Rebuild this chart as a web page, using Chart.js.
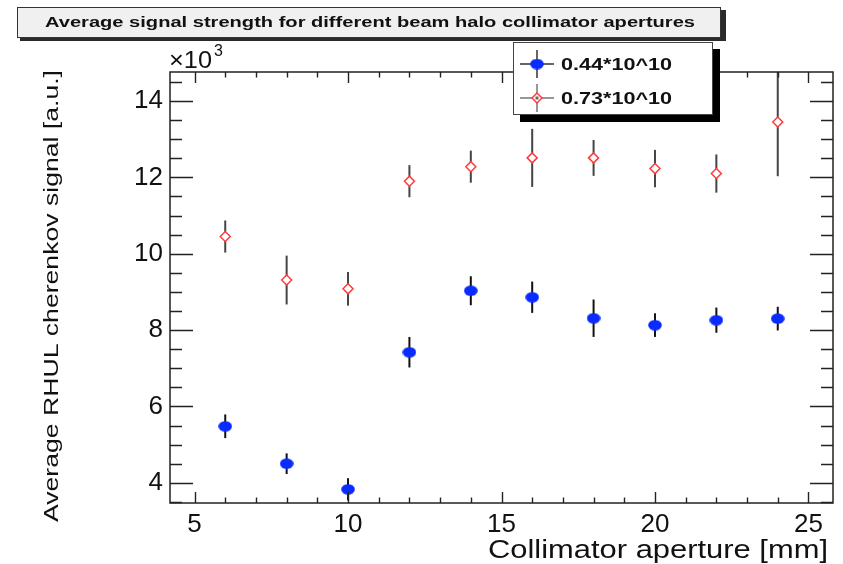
<!DOCTYPE html>
<html>
<head>
<meta charset="utf-8">
<script src="https://cdn.jsdelivr.net/npm/chart.js@4.4.1/dist/chart.umd.min.js"></script>
<style>
  body { margin: 0; background: #fff; }
  #wrap { width: 843px; height: 564px; }
</style>
</head>
<body>
<div id="wrap"><canvas id="chart" width="843" height="564"></canvas></div>
<script>
// values, y in units of 10^3
const aperture = [6, 8, 10, 12, 14, 16, 18, 20, 22, 24];
const sig044 = [5.48, 4.50, 3.83, 7.42, 9.03, 8.86, 8.31, 8.13, 8.26, 8.30];
const err044 = [0.31, 0.27, 0.29, 0.40, 0.38, 0.41, 0.49, 0.31, 0.33, 0.31];
const sig073 = [10.45, 9.31, 9.08, 11.90, 12.28, 12.51, 12.51, 12.23, 12.10, 13.45];
const err073 = [0.42, 0.64, 0.44, 0.42, 0.42, 0.76, 0.47, 0.49, 0.50, 1.42];
const seriesNames = ['0.44*10^10', '0.73*10^10'];
const xTicks = [5, 10, 15, 20, 25];
const yTicks = [4, 6, 8, 10, 12, 14];

const FONT = '"Liberation Sans", Arial, Helvetica, sans-serif';
const BLUE = '#0a2bff';
const RED = '#ff3b3b';

// blue marker looks a bit squashed in the original, so use an ellipse image
const dot = document.createElement('canvas');
dot.width = 14; dot.height = 11;
(function () {
  const c = dot.getContext('2d');
  c.fillStyle = BLUE;
  c.beginPath();
  c.ellipse(7, 5.5, 6.8, 5.2, 0, 0, Math.PI * 2);
  c.fill();
})();

function toPoints(ys) {
  return aperture.map((x, i) => ({ x: x, y: ys[i] }));
}

// draw text squeezed/stretched to a given width
function fitText(ctx, txt, x, y, w, align) {
  const m = ctx.measureText(txt).width;
  ctx.save();
  ctx.translate(x, y);
  ctx.scale(w / m, 1);
  ctx.textAlign = align;
  ctx.fillText(txt, 0, 0);
  ctx.restore();
}

const errorBars = {
  id: 'errorBars',
  beforeDatasetsDraw(chart) {
    const ctx = chart.ctx, a = chart.chartArea;
    const ys = chart.scales.y;
    const errs = [err044, err073];
    const cols = ['#111', '#444'];
    ctx.save();
    ctx.beginPath();
    ctx.rect(a.left, a.top, a.right - a.left, a.bottom - a.top);
    ctx.clip();
    chart.data.datasets.forEach((ds, i) => {
      const meta = chart.getDatasetMeta(i);
      ctx.strokeStyle = cols[i];
      ctx.lineWidth = 2;
      meta.data.forEach((pt, j) => {
        const v = ds.data[j].y;
        ctx.beginPath();
        ctx.moveTo(pt.x, ys.getPixelForValue(v + errs[i][j]));
        ctx.lineTo(pt.x, ys.getPixelForValue(v - errs[i][j]));
        ctx.stroke();
      });
    });
    ctx.restore();
  }
};

const decor = {
  id: 'decor',
  afterDraw(chart) {
    const ctx = chart.ctx, a = chart.chartArea;
    const xs = chart.scales.x, ys = chart.scales.y;
    ctx.save();

    // frame
    ctx.strokeStyle = '#222';
    ctx.lineWidth = 1.5;
    ctx.strokeRect(a.left, a.top, a.right - a.left, a.bottom - a.top);

    // ticks pointing inward, on all four sides
    ctx.lineWidth = 1.4;
    ctx.beginPath();
    for (let v = 3.5; v <= 14.75; v += 0.5) {
      const p = Math.round(ys.getPixelForValue(v)) + 0.5;
      const len = (v % 2 === 0) ? 23 : 12;
      ctx.moveTo(a.left, p); ctx.lineTo(a.left + len, p);
      ctx.moveTo(a.right, p); ctx.lineTo(a.right - len, p);
    }
    for (let v = 5; v <= 25; v += 1) {
      const p = Math.round(xs.getPixelForValue(v)) + 0.5;
      const len = (v % 5 === 0) ? 11 : 5.5;
      ctx.moveTo(p, a.bottom); ctx.lineTo(p, a.bottom - len);
      ctx.moveTo(p, a.top); ctx.lineTo(p, a.top + len);
    }
    ctx.stroke();

    ctx.fillStyle = '#111';
    ctx.textBaseline = 'alphabetic';

    // x10^3
    ctx.font = '24px ' + FONT;
    fitText(ctx, '\u00d710', 169, 68, 43, 'left');
    ctx.font = '16px ' + FONT;
    ctx.textAlign = 'left';
    ctx.fillText('3', 214, 56);

    // axis titles
    ctx.font = '26px ' + FONT;
    fitText(ctx, 'Collimator aperture [mm]', 828, 558, 340, 'right');
    ctx.save();
    ctx.translate(58, 296);
    ctx.rotate(-Math.PI / 2);
    ctx.font = '21px ' + FONT;
    fitText(ctx, 'Average RHUL cherenkov signal [a.u.]', 0, 0, 452, 'center');
    ctx.restore();

    // title box
    ctx.fillStyle = '#2a2a2a';
    ctx.fillRect(20, 10, 706, 31);
    ctx.fillStyle = '#f0f0f0';
    ctx.fillRect(17, 7, 703, 30);
    ctx.strokeStyle = '#333';
    ctx.lineWidth = 1;
    ctx.strokeRect(17.5, 7.5, 703, 30);
    ctx.fillStyle = '#111';
    ctx.font = 'bold 15px ' + FONT;
    fitText(ctx, 'Average signal strength for different beam halo collimator apertures', 45, 27, 650, 'left');

    // legend box with shadow
    ctx.fillStyle = '#000';
    ctx.fillRect(520, 49, 200, 73);
    ctx.fillStyle = '#fff';
    ctx.fillRect(513, 42, 200, 73);
    ctx.strokeStyle = '#444';
    ctx.strokeRect(513.5, 42.5, 199, 72);

    const rows = [64, 98];
    ctx.lineWidth = 1.5;
    rows.forEach((ry, i) => {
      ctx.strokeStyle = i === 0 ? '#333' : '#777';
      ctx.beginPath();
      ctx.moveTo(520, ry); ctx.lineTo(554, ry);
      ctx.moveTo(537, ry - 14); ctx.lineTo(537, ry + 14);
      ctx.stroke();
    });
    ctx.drawImage(dot, 530, 58.5);
    ctx.strokeStyle = RED;
    ctx.fillStyle = '#fff';
    ctx.lineWidth = 1.5;
    ctx.beginPath();
    ctx.moveTo(537, 93); ctx.lineTo(542, 98); ctx.lineTo(537, 103); ctx.lineTo(532, 98);
    ctx.closePath();
    ctx.fill();
    ctx.stroke();
    ctx.fillStyle = '#666';
    ctx.fillRect(535.5, 96.5, 3, 3);

    ctx.fillStyle = '#111';
    ctx.font = 'bold 16px ' + FONT;
    fitText(ctx, seriesNames[0], 561, 70, 111, 'left');
    fitText(ctx, seriesNames[1], 561, 103.5, 111, 'left');

    ctx.restore();
  }
};

new Chart(document.getElementById('chart'), {
  type: 'scatter',
  data: {
    datasets: [{
      label: seriesNames[0],
      data: toPoints(sig044),
      pointStyle: dot,
      pointRadius: 6,
      backgroundColor: BLUE,
      borderColor: BLUE
    }, {
      label: seriesNames[1],
      data: toPoints(sig073),
      pointStyle: 'rectRot',
      pointRadius: 5,
      pointBorderWidth: 1.5,
      backgroundColor: '#fff',
      borderColor: RED
    }]
  },
  options: {
    responsive: false,
    animation: false,
    devicePixelRatio: 1,
    layout: { padding: { left: 0, right: 10, top: 72, bottom: 0 } },
    plugins: {
      legend: { display: false },
      title: { display: false },
      tooltip: { enabled: false }
    },
    scales: {
      x: {
        type: 'linear',
        min: 4.2,
        max: 25.8,
        afterFit(s) { s.height = 61; },
        afterBuildTicks(s) { s.ticks = xTicks.map(v => ({ value: v })); },
        grid: { display: false, drawTicks: false },
        border: { display: false },
        ticks: {
          padding: 6,
          color: '#111',
          font: { family: FONT, size: 26 },
          maxRotation: 0
        }
      },
      y: {
        type: 'linear',
        min: 3.47,
        max: 14.76,
        afterFit(s) { s.width = 170; },
        afterBuildTicks(s) { s.ticks = yTicks.map(v => ({ value: v })); },
        grid: { display: false, drawTicks: false },
        border: { display: false },
        ticks: {
          padding: 7,
          color: '#111',
          font: { family: FONT, size: 26 }
        }
      }
    }
  },
  plugins: [errorBars, decor]
});
</script>
</body>
</html>
